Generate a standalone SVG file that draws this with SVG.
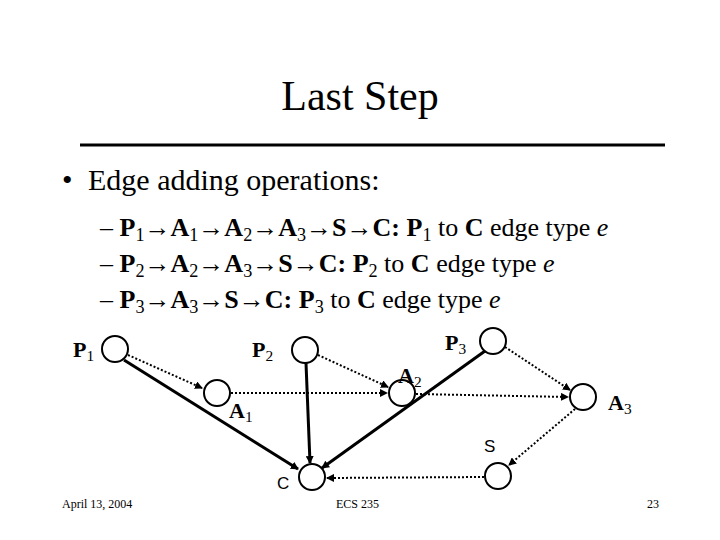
<svg xmlns="http://www.w3.org/2000/svg" width="720" height="540" viewBox="0 0 720 540">
<style>
text{font-family:"Liberation Serif",serif;fill:#000}
.b{font-weight:bold}
.s{font-size:70%;baseline-shift:-25%;font-weight:normal}
.n{fill:#fff;stroke:#000;stroke-width:2}
.sol{stroke:#000;stroke-width:3;fill:none}
.dot{stroke:#000;stroke-width:2;stroke-dasharray:2 2;fill:none}
</style>
<defs>
<marker id="ah" markerWidth="8" markerHeight="8" refX="7" refY="4" orient="auto" markerUnits="userSpaceOnUse"><path d="M0,0L8,4L0,8z" fill="#000"/></marker>
</defs>
<rect width="720" height="540" fill="#fff"/>
<text x="360" y="110" font-size="42" text-anchor="middle">Last Step</text>
<line x1="80" y1="145" x2="665" y2="145" stroke="#000" stroke-width="3"/>
<text x="62" y="190" font-size="30">•</text>
<text x="88" y="190" font-size="30">Edge adding operations:</text>
<text x="100" y="236" font-size="26">– <tspan class="b">P<tspan class="s">1</tspan>→A<tspan class="s">1</tspan>→A<tspan class="s">2</tspan>→A<tspan class="s">3</tspan>→S→C: P<tspan class="s">1</tspan></tspan> to <tspan class="b">C</tspan> edge type <tspan font-style="italic">e</tspan></text>
<text x="100" y="272" font-size="26">– <tspan class="b">P<tspan class="s">2</tspan>→A<tspan class="s">2</tspan>→A<tspan class="s">3</tspan>→S→C: P<tspan class="s">2</tspan></tspan> to <tspan class="b">C</tspan> edge type <tspan font-style="italic">e</tspan></text>
<text x="100" y="308" font-size="26">– <tspan class="b">P<tspan class="s">3</tspan>→A<tspan class="s">3</tspan>→S→C: P<tspan class="s">3</tspan></tspan> to <tspan class="b">C</tspan> edge type <tspan font-style="italic">e</tspan></text>
<g id="edges">
<line class="sol" x1="124" y1="360" x2="298" y2="469" marker-end="url(#ah)"/>
<line class="sol" x1="306" y1="363" x2="310" y2="463" marker-end="url(#ah)"/>
<line class="sol" x1="485" y1="351" x2="322" y2="468" marker-end="url(#ah)"/>
<line class="dot" x1="128" y1="355" x2="202" y2="388" marker-end="url(#ah)"/>
<line class="dot" x1="318" y1="355" x2="388" y2="387" marker-end="url(#ah)"/>
<line class="dot" x1="505" y1="347" x2="570" y2="390" marker-end="url(#ah)"/>
<line class="dot" x1="231" y1="393" x2="387" y2="393" marker-end="url(#ah)"/>
<line class="dot" x1="416" y1="394" x2="568" y2="397" marker-end="url(#ah)" stroke-width="3"/>
<line class="dot" x1="575" y1="409" x2="509" y2="465" marker-end="url(#ah)"/>
<line class="dot" x1="484" y1="477" x2="327" y2="478" marker-end="url(#ah)"/>
</g>
<g id="P1"><circle class="n" cx="115" cy="349" r="13"/><text x="73" y="357" font-size="22" class="b">P<tspan class="s">1</tspan></text></g>
<g id="P2"><circle class="n" cx="305" cy="350" r="13"/><text x="252" y="357" font-size="22" class="b">P<tspan class="s">2</tspan></text></g>
<g id="P3"><circle class="n" cx="493" cy="341" r="13"/><text x="445" y="350" font-size="22" class="b">P<tspan class="s">3</tspan></text></g>
<g id="A1"><circle class="n" cx="217" cy="393" r="13"/><text x="229" y="418" font-size="22" class="b">A<tspan class="s">1</tspan></text></g>
<g id="A2"><circle class="n" cx="402" cy="393" r="13"/><text x="398" y="383" font-size="22" class="b">A<tspan class="s">2</tspan></text></g>
<g id="A3"><circle class="n" cx="583" cy="397" r="13"/><text x="608" y="410" font-size="22" class="b">A<tspan class="s">3</tspan></text></g>
<g id="S"><circle class="n" cx="498" cy="476" r="13"/><text x="484" y="452" font-size="17" style="font-family:'Liberation Sans',sans-serif">S</text></g>
<g id="C"><circle class="n" cx="312" cy="477" r="13"/><text x="277" y="489" font-size="17" style="font-family:'Liberation Sans',sans-serif">C</text></g>
<text x="62" y="508" font-size="12">April 13, 2004</text>
<text x="336" y="508" font-size="12">ECS 235</text>
<text x="647" y="508" font-size="12">23</text>
</svg>
